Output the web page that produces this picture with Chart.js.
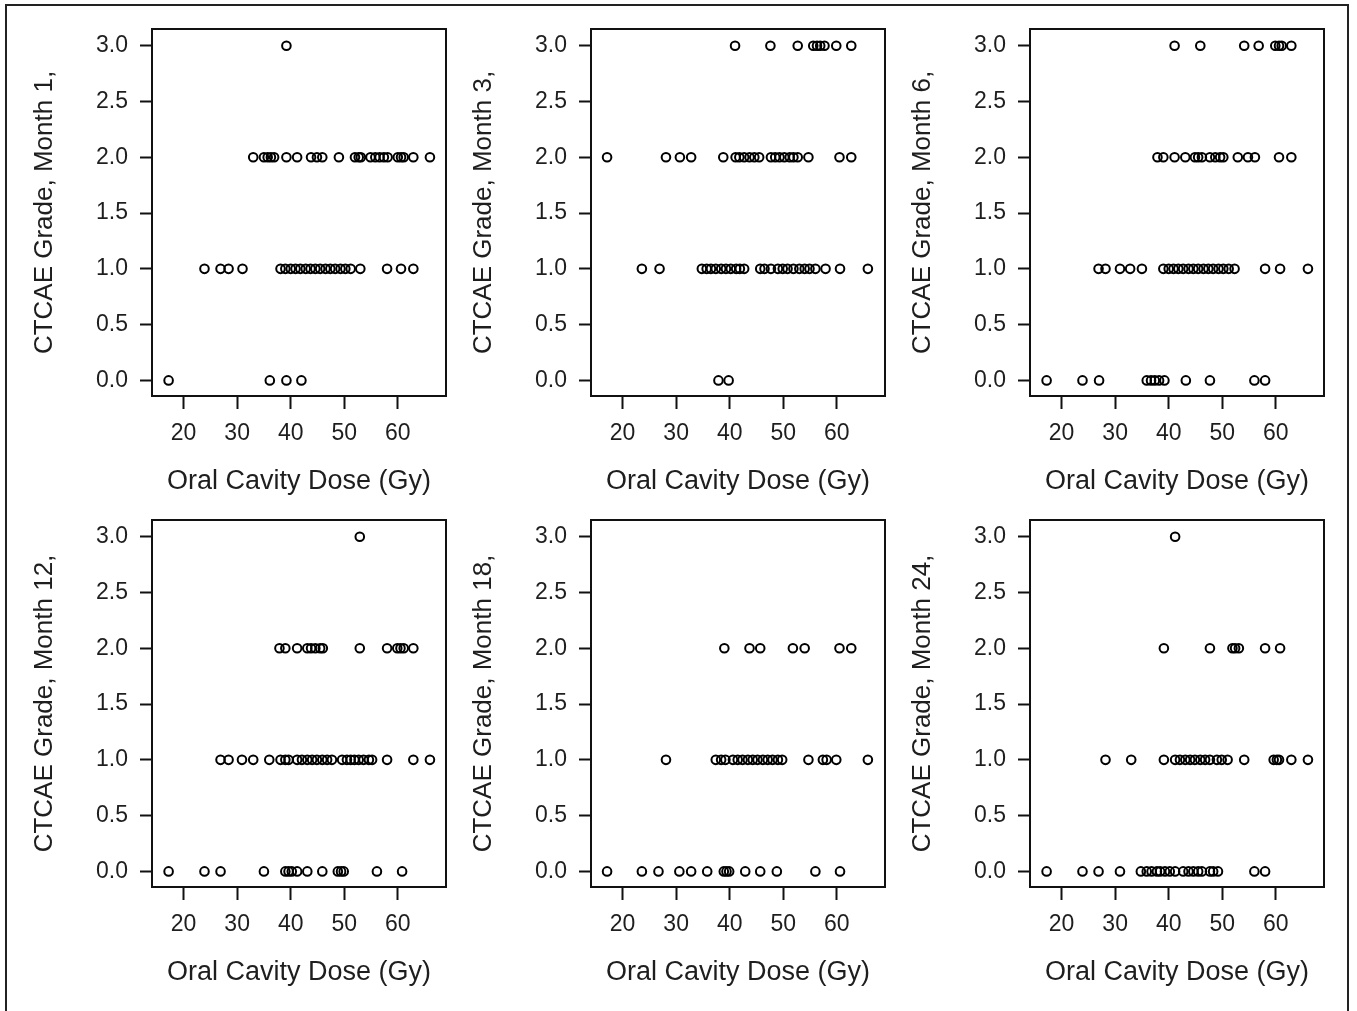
<!DOCTYPE html>
<html>
<head>
<meta charset="utf-8">
<title>CTCAE Grade vs Oral Cavity Dose</title>
<script src="https://cdn.jsdelivr.net/npm/chart.js@4"></script>
<style>
  html, body { margin: 0; padding: 0; background: #fff; overflow: hidden; }
  body { width: 1357px; height: 1011px; position: relative; }
  #frame { position: absolute; left: 5px; top: 4px; width: 1344px; height: 1030px; border: 2px solid #222; box-sizing: border-box; }
  canvas { position: absolute; }
</style>
</head>
<body>
<div id="frame"></div>
<script>
const months = [1, 3, 6, 12, 18, 24];
const doseTicks = [20, 30, 40, 50, 60];
const gradeTicks = [0, 0.5, 1, 1.5, 2, 2.5, 3];

// doses (Gy), listed by grade: [grade 0, grade 1, grade 2, grade 3]
const month1 = [
    [17.2, 36.1, 39.2, 42.0],
    [23.9, 26.9, 28.4, 31.0, 38.1, 39.0, 40.0, 40.9, 41.8, 42.8, 43.7, 44.6, 45.5, 46.5, 47.4, 48.3, 49.3, 50.2, 51.2, 53.0, 58.0, 60.6, 62.9],
    [33.0, 35.0, 35.7, 36.3, 36.9, 39.2, 41.2, 43.8, 44.9, 45.9, 49.0, 52.0, 52.7, 53.1, 54.9, 55.8, 56.6, 57.4, 58.1, 60.0, 60.6, 61.1, 62.9, 66.0],
    [39.2],
];
const month3 = [
    [37.9, 39.8],
    [23.6, 26.9, 34.8, 35.7, 36.5, 37.4, 38.4, 39.3, 40.2, 41.2, 41.9, 42.7, 45.7, 46.5, 47.7, 49.0, 49.9, 50.8, 51.9, 53.0, 54.0, 54.9, 56.0, 57.9, 60.6, 65.8],
    [17.1, 28.1, 30.7, 32.8, 38.8, 41.1, 41.8, 42.7, 43.7, 44.6, 45.5, 47.7, 48.5, 49.3, 50.2, 51.2, 51.9, 52.7, 54.7, 60.5, 62.7],
    [41.0, 47.6, 52.7, 55.6, 56.3, 56.9, 57.7, 59.9, 62.7],
];
const month6 = [
    [17.2, 23.9, 27.0, 35.9, 36.7, 37.4, 38.2, 39.2, 43.2, 47.7, 56.0, 58.0],
    [26.9, 28.2, 30.9, 32.8, 35.0, 39.0, 40.0, 40.9, 41.8, 42.7, 43.7, 44.6, 45.5, 46.5, 47.4, 48.3, 49.3, 50.2, 51.2, 52.3, 58.0, 60.8, 66.0],
    [37.9, 39.0, 41.1, 43.1, 44.9, 45.5, 46.2, 47.7, 48.7, 49.6, 50.2, 52.9, 54.8, 56.1, 60.6, 62.9],
    [41.1, 45.9, 54.1, 56.8, 59.9, 60.6, 61.1, 62.9],
];
const month12 = [
    [17.2, 23.9, 26.9, 35.0, 39.0, 39.6, 40.2, 41.2, 43.1, 45.9, 48.8, 49.4, 49.9, 56.1, 60.8],
    [26.9, 28.4, 30.9, 33.0, 36.0, 38.1, 39.0, 39.6, 41.2, 42.1, 43.1, 44.0, 44.9, 45.9, 46.8, 47.7, 49.6, 50.5, 51.2, 51.9, 52.7, 53.6, 54.6, 55.2, 58.0, 62.9, 66.0],
    [37.9, 39.0, 41.2, 43.1, 43.8, 44.6, 45.5, 46.0, 52.9, 58.0, 59.9, 60.5, 61.1, 62.9],
    [52.9],
];
const month18 = [
    [17.1, 23.6, 26.7, 30.6, 32.8, 35.8, 38.9, 39.4, 39.9, 42.9, 45.7, 48.8, 56.0, 60.6],
    [28.1, 37.4, 38.4, 39.2, 40.6, 41.5, 42.4, 43.4, 44.3, 45.2, 46.2, 47.1, 48.0, 49.0, 49.8, 54.7, 57.4, 58.1, 59.9, 65.8],
    [39.0, 43.7, 45.7, 51.8, 54.0, 60.5, 62.7],
    [],
];
const month24 = [
    [17.2, 23.9, 26.9, 30.9, 34.8, 35.9, 36.8, 37.8, 38.4, 39.3, 40.2, 41.2, 42.7, 43.7, 44.6, 45.5, 46.2, 47.7, 48.3, 49.2, 56.0, 58.0],
    [28.2, 33.0, 39.1, 41.2, 42.1, 43.1, 44.0, 44.9, 45.9, 46.8, 47.7, 49.0, 49.9, 51.0, 54.1, 59.6, 60.2, 60.6, 62.9, 66.0],
    [39.1, 47.7, 51.9, 52.4, 53.1, 58.0, 60.8],
    [41.2],
];
const panelData = [month1, month3, month6, month12, month18, month24];

// layout of the plot boxes on the page
const boxLefts = [152, 591, 1030];
const boxTops = [29, 520];
const boxW = 294, boxH = 367;
const axisW = 125, axisH = 110, padT = 15, padR = 15;

const fontFamily = '"Liberation Sans", Arial, sans-serif';
const textColor = '#1e1e1e';
const lineColor = '#111';

// draws the full box around the plotting area
const boxPlugin = {
    id: 'plotBox',
    afterDraw(chart) {
        const { ctx, chartArea: a } = chart;
        ctx.save();
        ctx.strokeStyle = lineColor;
        ctx.lineWidth = 2;
        ctx.strokeRect(a.left, a.top, a.right - a.left, a.bottom - a.top);
        ctx.restore();
    },
};

months.forEach((month, i) => {
    const col = i % 3;
    const row = Math.floor(i / 3);
    const canvas = document.createElement('canvas');
    const w = axisW + boxW + padR;
    const h = padT + boxH + axisH;
    canvas.width = w;
    canvas.height = h;
    canvas.style.left = (boxLefts[col] - axisW) + 'px';
    canvas.style.top = (boxTops[row] - padT) + 'px';
    canvas.style.width = w + 'px';
    canvas.style.height = h + 'px';
    document.body.appendChild(canvas);

    const points = [];
    panelData[i].forEach((doses, grade) => {
        doses.forEach((d) => points.push({ x: d, y: grade }));
    });

    new Chart(canvas, {
        type: 'scatter',
        data: {
            datasets: [
                {
                    data: points,
                    pointStyle: 'circle',
                    pointRadius: 4.3,
                    pointBorderWidth: 2,
                    borderColor: '#000',
                    backgroundColor: 'rgba(0,0,0,0)',
                },
            ],
        },
        options: {
            responsive: false,
            animation: false,
            events: [],
            layout: { padding: { top: padT, right: padR, left: 0, bottom: 0 } },
            plugins: { legend: { display: false }, tooltip: { enabled: false } },
            scales: {
                x: {
                    type: 'linear',
                    min: 14.1,
                    max: 69.0,
                    afterBuildTicks: (s) => {
                        s.ticks = doseTicks.map((v) => ({ value: v }));
                    },
                    afterFit: (s) => {
                        s.height = axisH;
                        s.paddingLeft = 0;
                        s.paddingRight = 0;
                    },
                    grid: { drawOnChartArea: false, drawTicks: true, tickLength: 13, tickWidth: 2, tickColor: lineColor },
                    border: { display: true, color: lineColor, width: 2 },
                    ticks: {
                        autoSkip: false,
                        maxRotation: 0,
                        padding: 11,
                        color: textColor,
                        font: { family: fontFamily, size: 23 },
                    },
                    title: {
                        display: true,
                        text: 'Oral Cavity Dose (Gy)',
                        color: textColor,
                        font: { family: fontFamily, size: 27 },
                        padding: { top: 0, bottom: 8 },
                    },
                },
                y: {
                    type: 'linear',
                    min: -0.14,
                    max: 3.15,
                    afterBuildTicks: (s) => {
                        s.ticks = gradeTicks.map((v) => ({ value: v }));
                    },
                    afterFit: (s) => {
                        s.width = axisW;
                        s.paddingTop = 0;
                        s.paddingBottom = 0;
                    },
                    grid: { drawOnChartArea: false, drawTicks: true, tickLength: 12, tickWidth: 2, tickColor: lineColor },
                    border: { display: true, color: lineColor, width: 2 },
                    ticks: {
                        padding: 12,
                        color: textColor,
                        font: { family: fontFamily, size: 23 },
                        callback: (v) => Number(v).toFixed(1),
                    },
                    title: {
                        display: true,
                        text: `CTCAE Grade, Month ${month},`,
                        color: textColor,
                        font: { family: fontFamily, size: 26 },
                        padding: { top: 2, bottom: 0 },
                    },
                },
            },
        },
        plugins: [boxPlugin],
    });
});
</script>
</body>
</html>
